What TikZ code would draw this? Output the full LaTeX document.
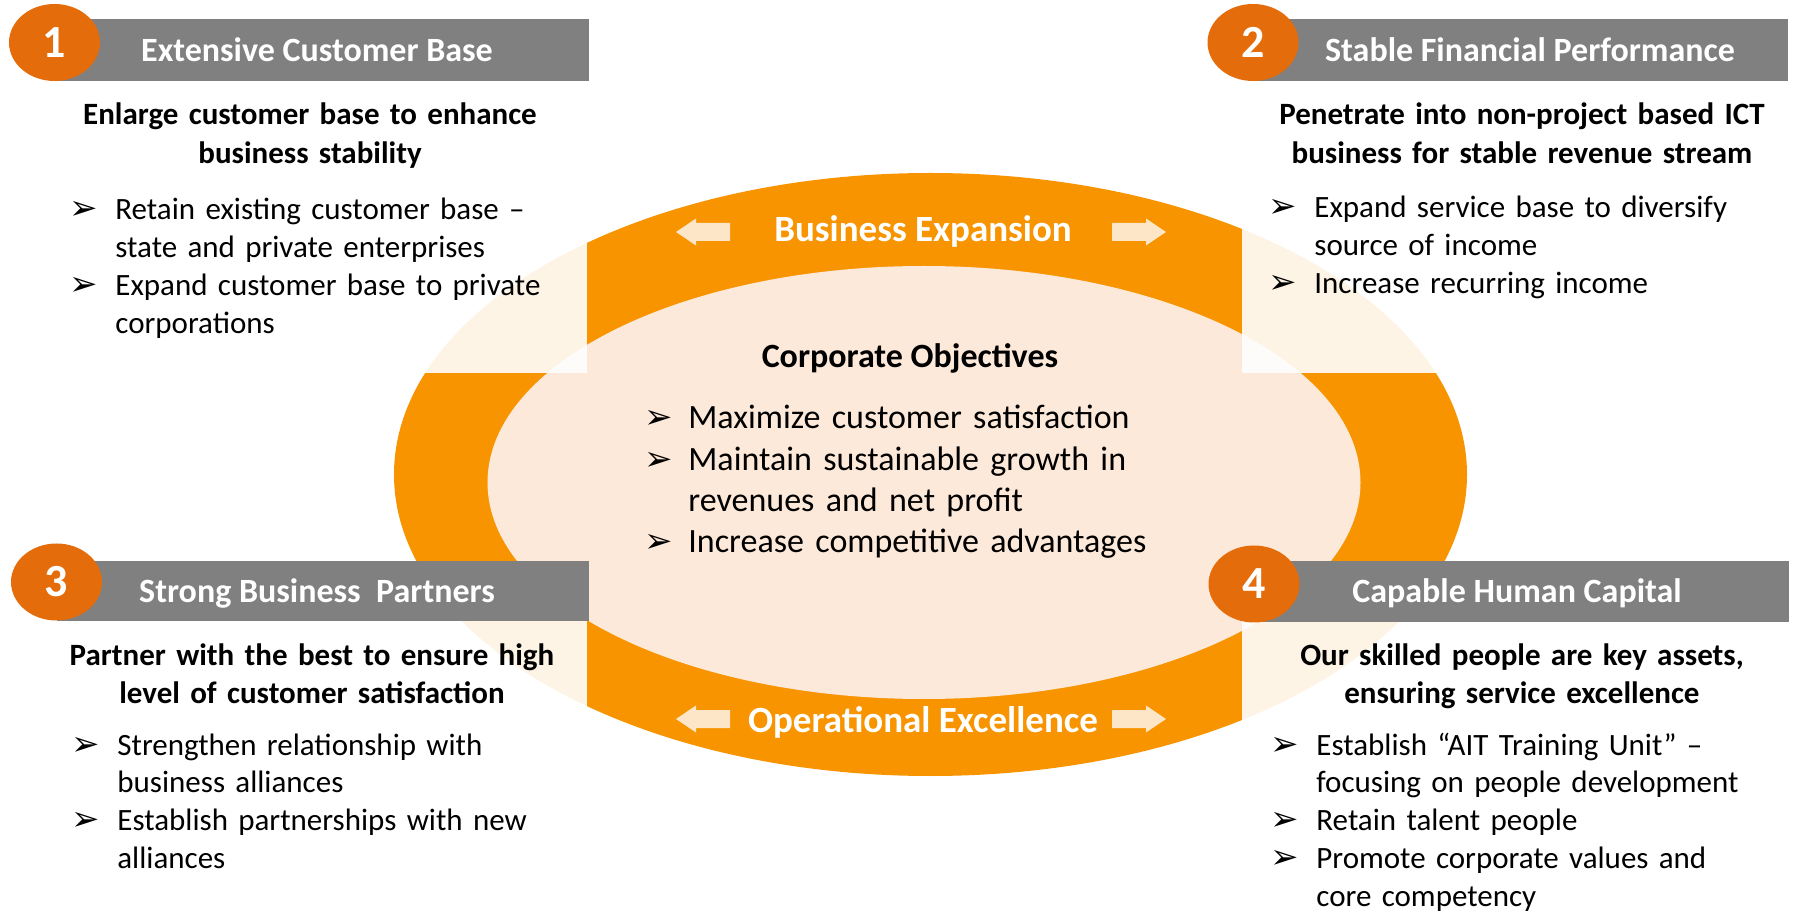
\documentclass[tikz,border=0pt]{standalone}
\usepackage{fontspec}
\setmainfont{Carlito}
\newfontfamily\dejavu{DejaVu Sans}
\usetikzlibrary{shapes.geometric}
\definecolor{ringorange}{RGB}{247,148,0}
\definecolor{diskorange}{RGB}{228,108,10}
\definecolor{bargray}{RGB}{128,128,128}
\definecolor{innerpeach}{RGB}{253,233,217}
\definecolor{arrowcream}{RGB}{253,230,200}
% arrow-head bullet and hanging list items
\newcommand{\bulmark}{{\dejavu\fontsize{17}{17}\selectfont ➢}}
\newcommand{\fitm}{\hangindent=23pt\hangafter=1\noindent\makebox[23pt][l]{\bulmark}}
\newcommand{\itm}{\par\fitm}
\newcommand{\fcitm}{\hangindent=22pt\hangafter=1\noindent\makebox[22pt][l]{\bulmark}}
\newcommand{\citm}{\par\fcitm}
\begin{document}
\begin{tikzpicture}[x=0.5pt,y=-0.5pt,
	numdisk/.style={ellipse,fill=diskorange,minimum width=45.5pt,minimum height=38.5pt,inner sep=0pt,text=white,font=\bfseries\fontsize{23}{23}\selectfont},
	titletext/.style={anchor=base,inner sep=0pt,text=white,font=\bfseries\fontsize{17}{20}\selectfont},
	headline/.style={anchor=base,inner sep=0pt,text width=260pt,align=center,font=\bfseries\fontsize{15.5}{19.1}\selectfont},
	bullets/.style={anchor=base west,inner sep=0pt,text width=260pt,align=left,font=\fontsize{15.5}{18.9}\selectfont},
	bandlabel/.style={anchor=base,inner sep=0pt,text=white,font=\bfseries\fontsize{18.5}{22}\selectfont}]
		\useasboundingbox (0,0) rectangle (1795,914);
		% rings
		\fill[ringorange] (930.5,474.5) ellipse [x radius=536.5,y radius=301.5];
		\fill[innerpeach] (924,482.5) ellipse [x radius=436.5,y radius=216.5];
		% faded corners outside the cross
		\fill[white,opacity=0.9] (380,160) rectangle (587,373);
		\fill[white,opacity=0.9] (1242,160) rectangle (1480,373);
		\fill[white,opacity=0.9] (380,621) rectangle (587,790);
		\fill[white,opacity=0.9] (1242,621) rectangle (1480,790);
		% block arrows
		\foreach \tx/\dx/\ty in {676/1/232,1166/-1/232,676/1/719,1166/-1/719}
			\fill[arrowcream] (\tx,\ty) -- ++(20*\dx,-13.5) -- ++(0,4.5) -- ++(34*\dx,0) -- ++(0,18) -- ++(-34*\dx,0) -- ++(0,4.5) -- cycle;
		\node[bandlabel] (expansion) at (923,242) {Business Expansion};
		\node[bandlabel] (excellence) at (923,732) {Operational Excellence};
		% centre
		\node[anchor=base,inner sep=0pt,font=\bfseries\fontsize{17}{20}\selectfont] (objectives) at (910,367.5) {Corporate Objectives};
		\node[bullets,font=\fontsize{17}{20.65}\selectfont] (objlist) at (644,429) {\fcitm Maximize customer satisfaction
			\citm Maintain sustainable growth in\newline revenues and net profit
			\citm Increase competitive advantages\par};
		% panel 1
		\fill[bargray] (54.5,19) rectangle (589,81);
		\node[numdisk] (n1) at (54.5,42.5) {1};
		\node[titletext] (t1) at (317,62) {Extensive Customer Base};
		\node[headline] (h1) at (310,125) {Enlarge customer base to enhance\\business stability};
		\node[bullets] (b1) at (69,220) {\fitm Retain existing customer base –\newline state and private enterprises
			\itm Expand customer base to private\newline corporations\par};
		% panel 2
		\fill[bargray] (1253,19) rectangle (1788,81);
		\node[numdisk] (n2) at (1253,42.5) {2};
		\node[titletext] (t2) at (1530,62) {Stable Financial Performance};
		\node[headline] (h2) at (1522,125) {Penetrate into non-project based ICT\\business for stable revenue stream};
		\node[bullets] (b2) at (1268,218) {\fitm Expand service base to diversify\newline source of income
			\itm Increase recurring income\par};
		% panel 3
		\fill[bargray] (56.5,561) rectangle (589,621);
		\node[numdisk] (n3) at (56.5,582) {3};
		\node[titletext] (t3) at (317,603) {Strong Business\ \ Partners};
		\node[headline] (h3) at (312,665) {Partner with the best to ensure high\\level of customer satisfaction};
		\node[bullets] (b3) at (71,755) {\fitm Strengthen relationship with\newline business alliances
			\itm Establish partnerships with new\newline alliances\par};
		% panel 4
		\fill[bargray] (1254,561) rectangle (1789,622);
		\node[numdisk] (n4) at (1254,584) {4};
		\node[titletext] (t4) at (1517,603) {Capable Human Capital};
		\node[headline] (h4) at (1522,665) {Our skilled people are key assets,\\ensuring service excellence};
		\node[bullets] (b4) at (1270,755) {\fitm Establish “AIT Training Unit” –\newline focusing on people development
			\itm Retain talent people
			\itm Promote corporate values and\newline core competency\par};
\end{tikzpicture}
\end{document}
